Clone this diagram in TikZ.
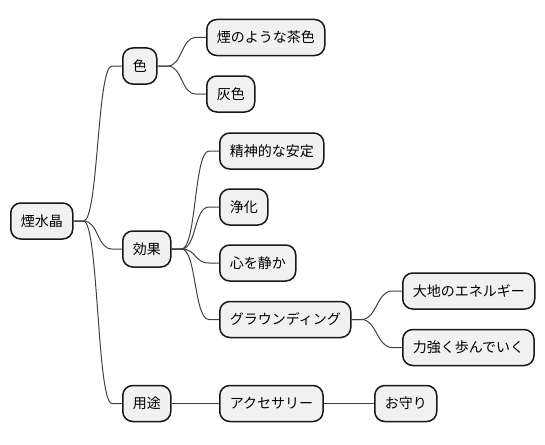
\documentclass[tikz,border=0pt]{standalone}
\usepackage{fontspec}
\setmainfont{Noto Sans CJK JP}
\usepackage{xcolor}
\definecolor{boxfill}{HTML}{F1F1F1}
\definecolor{boxline}{HTML}{181818}
\definecolor{linkgray}{HTML}{404040}
\usepackage{tikz}
\usetikzlibrary{calc}
\newcommand{\stub}{10pt}
\newcommand{\bend}{15pt}
\newcommand{\branch}[2]{%
    \draw[link] (#1.east) -- ++(\stub,0)
        .. controls +(\bend,0) and +(-\bend,0) .. ([xshift=-\stub]#2.west) -- (#2.west);}
\tikzset{
    topic/.style={anchor=west, draw=boxline, fill=boxfill, line width=1.5pt,
        rectangle, rounded corners=10pt, minimum height=36pt,
        inner xsep=10pt, inner ysep=0pt, font=\fontsize{14pt}{16pt}\selectfont},
    link/.style={draw=linkgray, line width=1pt}
}
\begin{document}
\begin{tikzpicture}[x=1pt,y=-1pt]
      \useasboundingbox (0,0) rectangle (545,444);
      % root and first level
      \node[topic] (root) at (10,221) {煙水晶};
      \node[topic] (iro) at (122,66) {色};
      \node[topic] (kouka) at (122,249) {効果};
      \node[topic] (youto) at (122,403.5) {用途};

      % colours
      \node[topic] (chairo) at (206,37.5) {煙のような茶色};
      \node[topic] (haiiro) at (206,94) {灰色};

      % effects
      \node[topic] (antei) at (219,151) {精神的な安定};
      \node[topic] (jouka) at (219,207) {浄化};
      \node[topic] (shizuka) at (219,263) {心を静か};
      \node[topic] (ground) at (219,319.5) {グラウンディング};
      \node[topic] (daichi) at (402,291) {大地のエネルギー};
      \node[topic] (ayumu) at (402,347.5) {力強く歩んでいく};

      % uses
      \node[topic] (acc) at (219,403.5) {アクセサリー};
      \node[topic] (omamori) at (374,403.5) {お守り};

      \branch{root}{iro}
      \branch{root}{kouka}
      \branch{root}{youto}
      \branch{iro}{chairo}
      \branch{iro}{haiiro}
      \branch{kouka}{antei}
      \branch{kouka}{jouka}
      \branch{kouka}{shizuka}
      \branch{kouka}{ground}
      \branch{ground}{daichi}
      \branch{ground}{ayumu}
      \draw[link] (youto) -- (acc);
      \draw[link] (acc) -- (omamori);
  \end{tikzpicture}
\end{document}
